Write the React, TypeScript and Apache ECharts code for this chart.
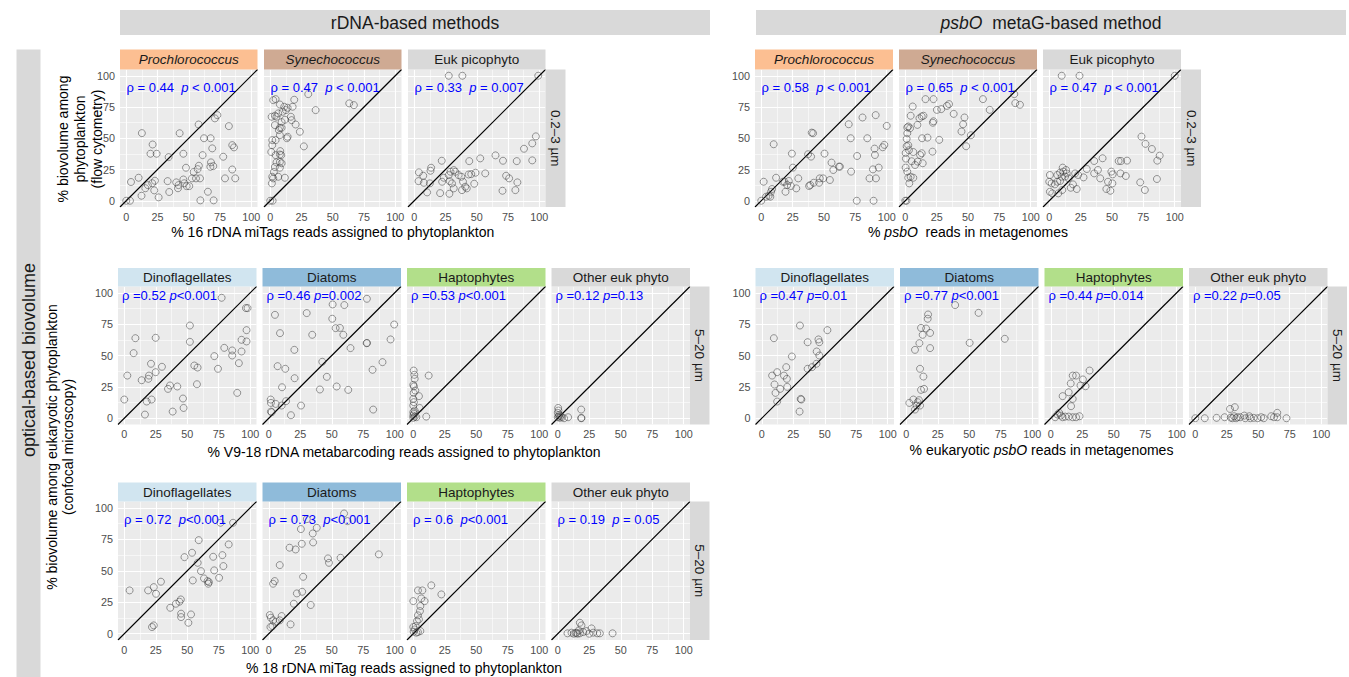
import React, { useEffect, useRef } from 'react';
import * as echarts from 'echarts';

// ---------- data ----------
const picoGroups = ['Prochlorococcus', 'Synechococcus', 'Euk picophyto'];
const eukGroups = ['Dinoflagellates', 'Diatoms', 'Haptophytes', 'Other euk phyto'];
const tickValues = [0, 25, 50, 75, 100];
const minorValues = [12.5, 37.5, 62.5, 87.5];

// rDNA (16S miTags) vs flow cytometry, 0.2-3 µm
const rdnaProchloro = [[0,0],[3,0],[3.8,15],[9.9,18.4],[12.5,54.1],[12.2,4],[15.3,10],[17.3,12.5],[19.4,37.6],[21.1,45],[20.8,14],[22.9,16],[22.4,8.3],[24.3,37.6],[25.9,2.7],[33.1,15.7],[33.9,34.9],[34.4,7],[40,14.7],[41.4,10],[42.7,54],[41.8,12.5],[45.7,37.6],[45.7,17],[46.4,14],[48.3,11.7],[47.8,26.4],[50.4,11.7],[52.6,17.9],[53.9,23],[55.8,17.9],[57.1,25.3],[58.1,28],[57.9,61],[59,17.9],[59.3,0.3],[61.1,36.5],[62.2,50],[65.3,7.2],[67.5,50],[67.8,30.7],[67.3,27.2],[68.8,41.9],[69.6,27.7],[69.9,0.3],[70.9,65.9],[72.9,68.5],[77.6,35.2],[79,17.9],[82.1,59.7],[84.8,25],[84.8,44.5],[86.2,42.7],[87.2,17.9]];
const rdnaSynecho = [[0,0],[1.9,0],[1.3,13.9],[2.4,17.9],[1.6,19.2],[2.9,23],[3.7,27],[5,30.7],[4.3,36.5],[0.8,39],[1.6,44.5],[1.6,48.5],[4.3,48.5],[7.7,26.4],[6.4,19.2],[7.7,31],[9.1,30],[7.7,37],[8,39.7],[8.8,36.5],[7.7,52.5],[6.9,56.5],[9.1,58.4],[7.7,58.4],[3.7,60.5],[1.1,67.2],[3.7,68],[5,67.2],[6.4,69.9],[9.1,62.9],[11.7,64.8],[9.9,71.2],[7.7,77],[11.2,75.2],[2.4,80.5],[4.3,81.3],[12.5,72.5],[13.9,74.4],[16.5,67.2],[17.1,64.5],[17.9,75.2],[19.2,80.8],[20.3,61],[13.3,50],[13.9,51.2],[11.7,18.4],[23.7,55.2],[26.9,43.5],[30.4,85.3],[36.3,72.5],[63.2,77.9],[66.9,76.5]];
const rdnaEukPico = [[27.6,100],[38.5,100],[99.2,100],[97.3,51.5],[94.4,45.9],[87.8,41.6],[65,36.3],[71,32],[82,31.7],[94.4,32.3],[52.8,33.9],[44,31.7],[22,32],[13.5,26.4],[13,24],[3.7,22.7],[7.2,20],[3.4,15.7],[7.7,14.4],[12.5,13.9],[10.3,6.7],[20.7,6.1],[28.1,5.6],[22.3,15.2],[23.6,18.4],[27.6,20.5],[29,23.2],[31.6,24.5],[32.9,23.2],[28.4,15.7],[30.2,13.9],[31.6,9.9],[35.5,20.5],[37.7,19.2],[39,15.2],[38.2,8.5],[40.8,11.2],[42,9.9],[43.5,21],[45.6,21.3],[48,13.6],[49,22.4],[56.8,21.9],[70.6,8],[73.5,20],[75.9,17.9],[80.9,8.5],[82.5,14.7]];

// psbO metagenomes vs flow cytometry, 0.2-3 µm
const psboProchloro = [[0,0],[1.9,15.2],[3.8,3.2],[5.9,4],[7.2,3.2],[7.8,7.2],[8.6,9.4],[9.9,45.2],[11.8,18.4],[17.2,15.2],[18.5,15.2],[19.3,7.2],[20.6,12.6],[22,15.8],[23.6,11.8],[24.4,37.7],[25.2,26.5],[27.9,9.9],[29.5,17.9],[37.3,37.2],[38.1,11.8],[39.1,12.6],[39.7,35.3],[40.2,54.5],[41.3,54],[41.8,14.4],[46.1,14.4],[46.6,17.9],[49.3,17.9],[50.4,37.7],[54.7,16.6],[56,30.5],[57.4,24.6],[61.9,27.3],[62.7,27.3],[69.7,61.2],[71.3,50],[71.6,23.3],[76.4,35.8],[76.1,0],[80.7,66.6],[84.5,50],[86.3,17.9],[89,25.1],[89.5,0],[90.3,41.7],[90.6,36.6],[91.2,68.5],[91.4,17.9],[93.6,26.5],[96.8,42.8],[98.1,44.7],[100,59.9]];
const psboSynecho = [[0,0],[1,0],[0.3,26.5],[1.6,23.3],[2.4,18.4],[3.2,13.9],[4.3,19.2],[6.4,18.4],[0.5,33.7],[0.3,38.2],[1.1,43.6],[2.4,44.4],[2.9,40.4],[5.1,31.6],[1.1,49.5],[1.6,54],[1.6,58.6],[2.4,59.4],[3.8,58],[6.4,39],[7.8,28.6],[9.9,31.3],[11.8,36.6],[13.1,38],[13.9,30],[13.4,50],[9.7,60.7],[11.3,66],[13.1,67.4],[14.5,68],[4.3,68],[5.9,75.4],[16.1,81.3],[17.7,50.5],[21.7,39.3],[22,62.4],[22.5,63.6],[22.5,81.3],[25.2,72.7],[27.1,48.7],[28.7,73.3],[33.2,75.9],[34.9,77.3],[38.6,69.5],[44.8,55.4],[46.1,61.2],[47.2,66.6],[48.5,43.6],[52.3,52.4],[61.9,81.3],[67.3,72.7],[86.9,85.3],[87.7,78.1],[91.4,76.8]];
const psboEukPico = [[9.9,100],[24.1,100],[100,100],[73.5,51.3],[76.7,45.5],[81.8,41.4],[88,36.1],[86.1,32.1],[42.5,34],[35.8,31.8],[55.3,31.8],[57.2,31.8],[62,32.1],[29.9,25.4],[38.8,24.6],[35.8,21.9],[49.5,23.3],[50.5,21.1],[56.7,21.9],[61,19.8],[27.3,18.7],[40.6,17.9],[23,20.6],[20.6,21.9],[10.7,26.5],[13.4,24.6],[11.2,23.3],[8.6,22.5],[6.4,20.6],[0.5,20.6],[0,15.2],[1.9,13.9],[4.5,13.1],[6.4,15.2],[8.6,15.8],[9.9,19.3],[12.6,19.3],[13.9,21.9],[15.5,17.9],[17.1,10.4],[18.9,13.1],[21.9,9.4],[10.4,8.6],[7.2,5.9],[0.5,7.2],[2.4,5.9],[46.8,15.2],[45.5,9.4],[48.7,8],[50.3,13.9],[72.5,14.7],[76.2,8.6],[85.8,17.4]];

// V9-18S metabarcoding vs confocal microscopy, 5-20 µm
const v9Dino = [[0,14.9],[2.4,34],[7.4,51.9],[8.8,63.8],[13.8,30.3],[19.6,34],[19.1,31.4],[21.2,43.4],[21.7,14.9],[17.8,13.3],[16.4,2.9],[24.9,36.7],[24.9,64.1],[29.9,41],[34.7,23.4],[36.3,26.1],[38.4,5.3],[42.1,25.3],[46.6,15.7],[47.1,8.2],[52.1,73.9],[52.1,60.9],[55.6,42],[58.2,40.4],[57.7,27.1],[71.5,49.5],[74.4,39.4],[77.3,96],[79.4,56.1],[85.7,54],[85.7,50],[91,43.9],[89.7,20.2],[93.1,53.2],[93.1,62.5],[97.1,70.2],[97.1,61.2],[96.6,87.8],[97.9,87.8]];
const v9Diatoms = [[1.5,14.9],[1.7,12.2],[1.7,5.3],[2.3,4.8],[5.5,11.4],[4.9,82.4],[7,41.5],[8.9,67.8],[10.2,10.1],[10.5,24.7],[13.1,39.4],[13.7,13.6],[17.6,2.4],[20.3,54.5],[20.5,31.9],[25.6,10.1],[30.1,83.8],[34.5,66.5],[40.6,22.9],[42.5,45],[46.1,33],[50.4,79.3],[50.7,90.7],[53.1,71.8],[53.9,25.3],[56.5,72],[59.2,66.5],[60,90.2],[63.1,22.6],[64.9,55.9],[77.7,59.8],[78,60],[77.9,95.2],[82.4,38.6],[82.9,6.9],[90.3,44.7],[96.7,62.8],[99.6,74.7]];
const v9Hapto = [[0.3,38],[0.8,34.6],[1.1,31.4],[0,26.6],[0.5,25.3],[1.6,22.1],[0.3,20.2],[4.5,17.6],[0,15.4],[0.5,12.8],[0,10.1],[5,8.2],[1.1,6.1],[0,4.8],[0.5,3.5],[0,2.1],[1.1,1.3],[2.4,0.8],[0,0.3],[12.2,34],[10.3,1.3]];
const v9Other = [[0.3,8.2],[0.5,6.1],[0,4.3],[1.1,2.7],[0,0.8],[1.6,0.3],[3.2,0.8],[5,0],[8.2,0.8],[18.6,6.9],[18.6,0],[18.8,0.2],[0.8,1.5],[2.2,1.8]];

// eukaryotic psbO metagenomes vs confocal microscopy, 5-20 µm
const psboDino = [[8.2,34],[9.6,63.8],[10.1,26.9],[10.9,20.2],[12.2,36.7],[12.2,13.3],[14.6,23.4],[17.6,34],[19.4,40.7],[19.9,31.4],[20.2,25],[23.9,49.2],[30,5.3],[30.3,73.9],[30.9,15.4],[31.4,14.9],[36.4,39.4],[36.4,60.6],[39.9,40.7],[43.4,43.4],[43.6,53.2],[45,62.8],[45.7,60.6],[45.7,50],[52.1,70.2]];
const psboDiatoms = [[2.4,12.2],[5.6,14.9],[6.9,6.9],[8.2,10.1],[9,12.8],[10.1,14.4],[10.9,10.1],[6.9,54.5],[10.4,59.8],[10.9,39.4],[11.7,22.6],[11.7,72],[13,66.5],[13.6,33.2],[14.1,23.4],[15.7,71.5],[17,79.3],[17.3,82.7],[18.9,68],[18.9,55.9],[38.8,90.2],[50.3,60.1],[57.4,84],[78.2,63.3]];
const psboHapto = [[3.5,0.8],[5.4,2.9],[6.7,4.3],[8,2.1],[9.4,0.8],[11.5,1.3],[14.2,1.3],[17.4,0.8],[20.1,0.8],[22.8,1.6],[9.4,17.6],[16.1,9.6],[14.2,20.7],[17.4,15.4],[15.8,27.7],[17.4,34],[20.1,34],[23.6,26.1],[25.5,30.9],[27.6,25.5],[30.8,38]];
const psboOther = [[0,0],[7.5,0],[16.9,0.3],[23.3,0.8],[27.6,7.4],[31.4,8.8],[28.2,0.5],[29.5,0],[30.8,1.6],[32.4,0],[33.5,0.8],[35.7,0.8],[38.9,2.1],[39.7,0],[42.9,1.6],[43.7,0],[46.4,0.3],[49.6,0],[52.3,0.8],[54.4,0],[60.3,1.6],[62.5,0.8],[65.1,4.3],[65.1,0.8],[72.4,0]];

// 18S miTags vs confocal microscopy, 5-20 µm
const mitagDino = [[4.2,34.4],[18.9,34.4],[22,5.3],[23.4,6.6],[23.4,37],[25.2,31.7],[29.1,41.3],[36.5,20.6],[41,23.8],[43.8,25.4],[44.9,27.2],[45.1,15.9],[45.1,13.2],[47.8,60.8],[50.9,8.7],[53,15.3],[53.8,64.3],[54.4,42.3],[59.1,74.3],[58.3,56.3],[60.9,49.7],[63.3,43.9],[66.1,41.8],[66.7,39.7],[67.2,41],[70.6,61.1],[71.4,50.3],[75.3,44.4],[76.4,88.1],[77.9,62.4],[78.7,53.7],[82.9,70.9],[86.4,88.1]];
const mitagDiatoms = [[0.8,14.8],[1.6,12.7],[1.3,5.3],[2.9,6.1],[3.4,39.7],[4.7,41.8],[3.4,10.6],[5.5,9.5],[8.7,10.6],[8.7,54.5],[10.2,14],[16.5,68.3],[17.3,7.4],[19.9,23.8],[21.3,66.9],[22.3,32],[25.5,83.1],[26.2,71.4],[26.5,33.3],[27.3,45.2],[30.2,91],[33.3,22.8],[34.9,79.6],[35.2,72.5],[38.1,84.1],[47,59.8],[47.8,56.3],[57,60.3],[59.8,95.5],[62.5,89.4],[87.4,63]];
const mitagHapto = [[0.3,1.6],[1.1,3.4],[0,5.3],[1.9,6.1],[2.9,10.1],[4.5,11.4],[5.6,2.1],[3.7,1.3],[2.4,0.8],[0,25.9],[3.7,34.4],[7.2,34.4],[5.6,22],[6.4,28],[9,25.9],[5.3,18],[3.7,14.6],[14.3,38.4],[22.3,31.2]];
const mitagOther = [[7.7,0.3],[10.9,0.8],[12.7,0],[14.9,0.8],[16.7,2.6],[17.5,8.7],[18.8,6.6],[17.5,0.3],[20.2,1.3],[22.8,2.1],[24.9,0],[26.8,4.2],[28.1,0.8],[31.3,0.3],[33.4,0.3],[43.5,0.3],[14.1,0.5],[15.7,0]];

// correlation labels
const rdnaPicoStats = ['ρ = 0.44  {p|p} < 0.001', 'ρ = 0.47  {p|p} < 0.001', 'ρ = 0.33  {p|p} = 0.007'];
const psboPicoStats = ['ρ = 0.58  {p|p} < 0.001', 'ρ = 0.65  {p|p} < 0.001', 'ρ = 0.47  {p|p} < 0.001'];
const v9Stats = ['ρ =0.52 {p|p}<0.001', 'ρ =0.46 {p|p}=0.002', 'ρ =0.53 {p|p}<0.001', 'ρ =0.12 {p|p}=0.13'];
const psboEukStats = ['ρ =0.47 {p|p}=0.01', 'ρ =0.77 {p|p}<0.001', 'ρ =0.44 {p|p}=0.014', 'ρ =0.22 {p|p}=0.05'];
const mitagStats = ['ρ = 0.72  {p|p}<0.001', 'ρ = 0.73  {p|p}<0.001', 'ρ = 0.6  {p|p}<0.001', 'ρ = 0.19  {p|p} = 0.05'];

// ---------- styling / layout ----------
const FONT = '"Liberation Sans", Arial, Helvetica, sans-serif';
const stripFill: Record<string, string> = {
  Prochlorococcus: '#FCBF92',
  Synechococcus: '#CFAA93',
  'Euk picophyto': '#D9D9D9',
  Dinoflagellates: '#D1E5F0',
  Diatoms: '#8FBBDA',
  Haptophytes: '#B2DF8A',
  'Other euk phyto': '#D9D9D9',
};
const italicGroups = ['Prochlorococcus', 'Synechococcus'];

type Row = {
  lefts: number[]; top: number; w: number; h: number; stripH: number; rightW: number;
  groups: string[]; data: number[][][]; stats: string[]; annDx: number; annDy: number; sizeLabel: string;
  xTitle: string; xTitleY: number;
};

const rows: Row[] = [
  { lefts: [120, 264, 408], top: 69.5, w: 137.5, h: 137.5, stripH: 20, rightW: 20, groups: picoGroups,
    data: [rdnaProchloro, rdnaSynecho, rdnaEukPico], stats: rdnaPicoStats, annDx: 6.5, annDy: 18, sizeLabel: '0.2–3 µm',
    xTitle: '% 16 rDNA miTags reads assigned to phytoplankton', xTitleY: 232 },
  { lefts: [755, 899, 1043], top: 69.5, w: 138, h: 137.5, stripH: 20, rightW: 20, groups: picoGroups,
    data: [psboProchloro, psboSynecho, psboEukPico], stats: psboPicoStats, annDx: 6.5, annDy: 18, sizeLabel: '0.2–3 µm',
    xTitle: '% {i|psbO}  reads in metagenomes', xTitleY: 232 },
  { lefts: [118, 262.5, 407, 551.5], top: 286.5, w: 138.5, h: 138, stripH: 18.5, rightW: 19.5, groups: eukGroups,
    data: [v9Dino, v9Diatoms, v9Hapto, v9Other], stats: v9Stats, annDx: 4, annDy: 9, sizeLabel: '5–20 µm',
    xTitle: '% V9-18 rDNA metabarcoding reads assigned to phytoplankton', xTitleY: 452 },
  { lefts: [755.5, 900, 1044.5, 1189], top: 286.5, w: 138.5, h: 138, stripH: 18.5, rightW: 19.5, groups: eukGroups,
    data: [psboDino, psboDiatoms, psboHapto, psboOther], stats: psboEukStats, annDx: 4, annDy: 9, sizeLabel: '5–20 µm',
    xTitle: '% eukaryotic {i|psbO} reads in metagenomes', xTitleY: 450 },
  { lefts: [118, 262.5, 407, 551.5], top: 501.5, w: 138.5, h: 138.5, stripH: 19, rightW: 19.5, groups: eukGroups,
    data: [mitagDino, mitagDiatoms, mitagHapto, mitagOther], stats: mitagStats, annDx: 6, annDy: 18, sizeLabel: '5–20 µm',
    xTitle: '% 18 rDNA miTag reads assigned to phytoplankton', xTitleY: 668 },
];

function textEl(x: number, y: number, text: string, opts: any = {}) {
  const size = opts.fontSize ?? 13.5;
  const fill = opts.fill ?? '#1A1A1A';
  return {
    type: 'text', x, y, rotation: opts.rotation ?? 0, silent: true, z: 10,
    style: {
      text, fill, fontSize: size, fontFamily: FONT, fontStyle: opts.fontStyle ?? 'normal',
      align: opts.align ?? 'center', verticalAlign: 'middle',
      textAlign: opts.align ?? 'center', textVerticalAlign: 'middle',
      lineHeight: opts.lineHeight,
      rich: {
        p: { fontStyle: 'italic', fill, fontSize: size, fontFamily: FONT },
        i: { fontStyle: 'italic', fill, fontSize: size, fontFamily: FONT },
      },
    },
  };
}
function rectEl(x: number, y: number, w: number, h: number, fill: string) {
  return { type: 'rect', silent: true, z: 5, shape: { x, y, width: w, height: h }, style: { fill } };
}

function buildOption() {
  const grid: any[] = [], xAxis: any[] = [], yAxis: any[] = [], series: any[] = [], graphic: any[] = [];
  let idx = 0;
  rows.forEach((row) => {
    row.groups.forEach((g, j) => {
      const left = row.lefts[j];
      grid.push({ left, top: row.top, width: row.w, height: row.h, show: true, backgroundColor: '#EBEBEB', borderWidth: 0 });
      const common = {
        gridIndex: idx, type: 'value', min: -5, max: 105,
        axisLine: { show: false }, splitLine: { show: false },
        axisTick: { show: true, length: 3, lineStyle: { color: '#333333', width: 1 }, customValues: tickValues },
      };
      xAxis.push({ ...common,
        axisLabel: { show: true, customValues: tickValues, color: '#4D4D4D', fontSize: 10.8, fontFamily: FONT, margin: 4 } });
      yAxis.push({ ...common,
        axisTick: { ...common.axisTick, show: j === 0 },
        axisLabel: { show: j === 0, customValues: tickValues, color: '#4D4D4D', fontSize: 10.8, fontFamily: FONT, margin: 5 } });
      const gridLines: any[] = [];
      minorValues.forEach((v) => {
        gridLines.push({ coords: [[v, -5], [v, 105]], lineStyle: { width: 0.55 } });
        gridLines.push({ coords: [[-5, v], [105, v]], lineStyle: { width: 0.55 } });
      });
      tickValues.forEach((v) => {
        gridLines.push({ coords: [[v, -5], [v, 105]], lineStyle: { width: 1.1 } });
        gridLines.push({ coords: [[-5, v], [105, v]], lineStyle: { width: 1.1 } });
      });
      series.push({ type: 'lines', coordinateSystem: 'cartesian2d', xAxisIndex: idx, yAxisIndex: idx, silent: true, z: 1,
        lineStyle: { color: '#FFFFFF', opacity: 1 }, data: gridLines });
      series.push({ type: 'lines', coordinateSystem: 'cartesian2d', xAxisIndex: idx, yAxisIndex: idx, silent: true, z: 2,
        lineStyle: { color: '#000000', width: 1.15, opacity: 1 }, data: [{ coords: [[-5, -5], [105, 105]] }] });
      series.push({ type: 'scatter', xAxisIndex: idx, yAxisIndex: idx, silent: true, z: 3, data: row.data[j],
        symbol: 'circle', symbolSize: 7,
        itemStyle: { color: 'rgba(0,0,0,0)', borderColor: 'rgba(55,55,55,0.7)', borderWidth: 0.9 } });
      // strip
      graphic.push(rectEl(left, row.top - row.stripH, row.w, row.stripH, stripFill[g]));
      graphic.push(textEl(left + row.w / 2, row.top - row.stripH / 2, g,
        { fontStyle: italicGroups.includes(g) ? 'italic' : 'normal' }));
      // annotation
      graphic.push(textEl(left + row.annDx, row.top + row.annDy, row.stats[j], { fill: '#0000FF', align: 'left', fontSize: 13 }));
      idx++;
    });
    const last = row.lefts[row.lefts.length - 1] + row.w;
    graphic.push(rectEl(last, row.top, row.rightW, row.h, '#D9D9D9'));
    graphic.push(textEl(last + row.rightW / 2, row.top + row.h / 2, row.sizeLabel, { rotation: -Math.PI / 2 }));
    const cx = (row.lefts[0] + last) / 2;
    graphic.push(textEl(cx, row.xTitleY, row.xTitle, { fill: '#000000', fontSize: 14 }));
  });

  // headers
  graphic.push(rectEl(120, 10, 590, 25, '#D9D9D9'));
  graphic.push(textEl(415, 22.5, 'rDNA-based methods', { fontSize: 17.5 }));
  graphic.push(rectEl(756, 10, 590, 25, '#D9D9D9'));
  graphic.push(textEl(1051, 22.5, '{i|psbO}  metaG-based method', { fontSize: 17.5 }));
  // left strip
  graphic.push(rectEl(16.5, 49.5, 24, 628, '#D9D9D9'));
  graphic.push(textEl(28.5, 360, 'optical-based biovolume', { fontSize: 18, rotation: Math.PI / 2 }));
  // y titles
  graphic.push(textEl(80, 139, '% biovolume among\nphytoplankton\n(flow cytometry)',
    { fill: '#000000', fontSize: 14, rotation: Math.PI / 2, lineHeight: 17 }));
  graphic.push(textEl(60, 447, '% biovolume among eukaryotic phytoplankton\n(confocal microscopy)',
    { fill: '#000000', fontSize: 14, rotation: Math.PI / 2, lineHeight: 16.6 }));

  return {
    animation: false,
    backgroundColor: '#FFFFFF',
    grid, xAxis, yAxis, series, graphic,
  };
}

export default function App() {
  const ref = useRef<HTMLDivElement>(null);
  useEffect(() => {
    if (!ref.current) return;
    const chart = echarts.init(ref.current, undefined, { renderer: 'svg' });
    chart.setOption(buildOption() as any);
    return () => chart.dispose();
  }, []);
  return <div ref={ref} style={{ position: 'absolute', left: 0, top: 0, width: 1349, height: 677 }} />;
}
